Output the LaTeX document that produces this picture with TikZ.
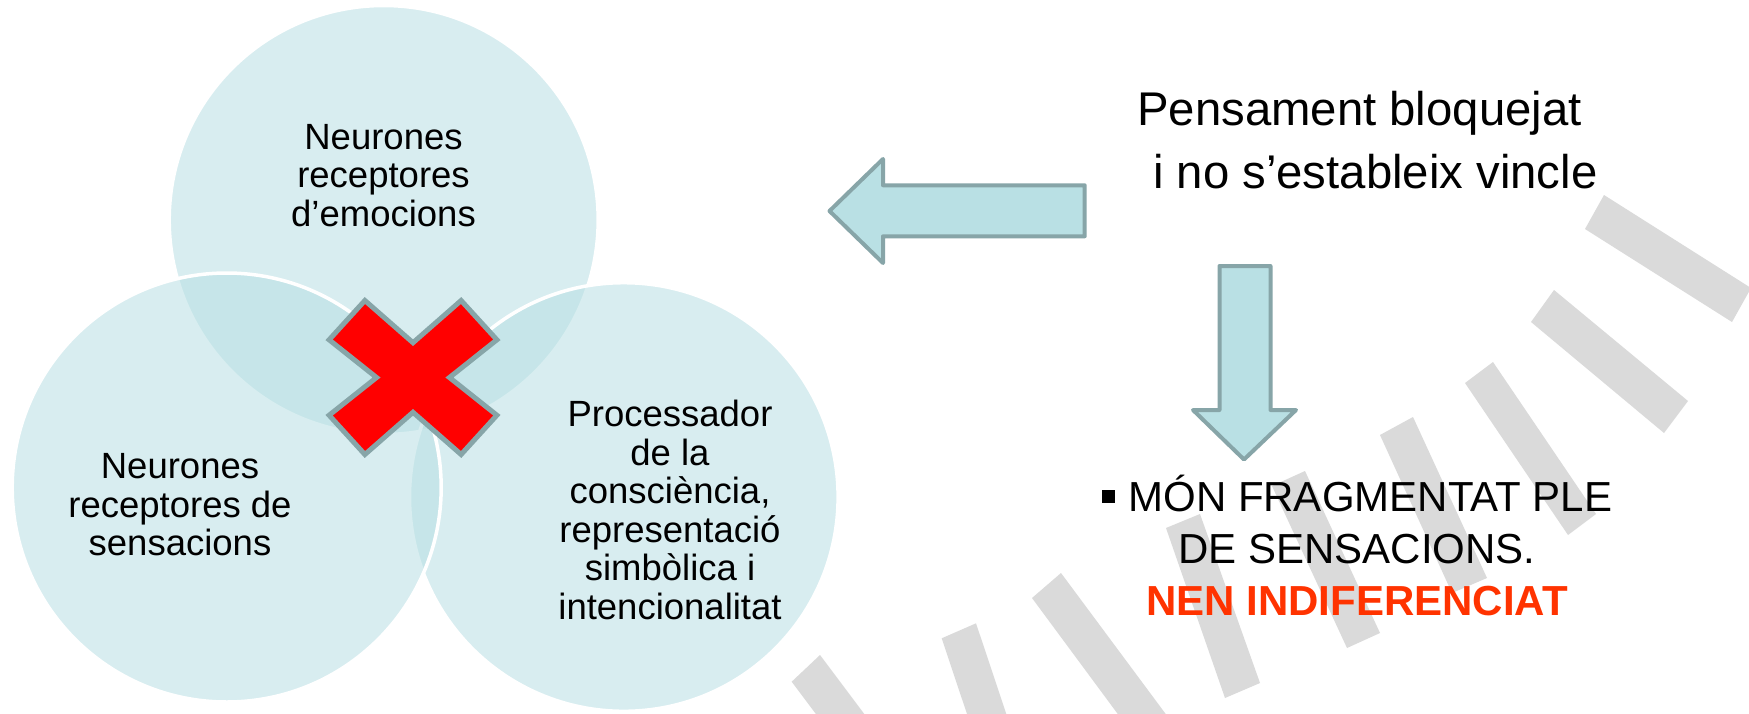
\documentclass[tikz,border=0pt]{standalone}
\usepackage{fontspec}
\setmainfont{Liberation Sans}
\definecolor{circfill}{RGB}{185,224,228}
\definecolor{arrowfill}{RGB}{185,224,228}
\definecolor{arrowline}{RGB}{135,165,168}
\definecolor{stripegray}{RGB}{218,218,218}
\definecolor{nenred}{RGB}{255,51,0}
\definecolor{crossred}{RGB}{255,0,0}
\begin{document}
\begin{tikzpicture}[x=1pt,y=-1pt,
  venn/.style={fill=circfill, fill opacity=0.55, draw=white, line width=3.5pt},
  graystripe/.style={fill=stripegray},
  bigarrow/.style={fill=arrowfill, draw=arrowline, line width=4pt, line join=round},
  crossmark/.style={fill=crossred, draw=arrowline, line width=5pt, line join=miter},
  ctext/.style={font=\fontsize{36.5}{38.5}\selectfont, align=center, anchor=base, inner sep=0pt},
  ptext/.style={font=\fontsize{47.3}{63.3}\selectfont, align=center, anchor=base, inner sep=0pt},
  mtext/.style={font=\fontsize{42}{51.6}\selectfont, align=center, anchor=base, inner sep=0pt}
]
\useasboundingbox (0,0) rectangle (1749,713);
\clip (0,0) rectangle (1749,713);
\fill[white] (0,0) rectangle (1749,713);

% background stripes
\fill[graystripe] (1604,195) -- (1585,229) -- (1732,322) -- (1751,288) -- cycle;
\fill[graystripe] (1554,290) -- (1531,322) -- (1664,433) -- (1688,401) -- cycle;
\fill[graystripe] (1493,362) -- (1465,383) -- (1568,535) -- (1596,514) -- cycle;
\fill[graystripe] (1413,417) -- (1380,435) -- (1452,593) -- (1487,578) -- cycle;
\fill[graystripe] (1305,471) -- (1272,486) -- (1347,648) -- (1380,633) -- cycle;
\fill[graystripe] (1200,514) -- (1166,528) -- (1225,698) -- (1260,683) -- cycle;
\fill[graystripe] (1061,573) -- (1032,598) -- (1137,740) -- (1185,740) -- cycle;
\fill[graystripe] (976,623.3) -- (941.7,638.3) -- (975.7,740) -- (1015,740) -- cycle;
\fill[graystripe] (820,655) -- (791.7,681.7) -- (835.4,740) -- (883.8,740) -- cycle;

% venn circles
\path[venn] (383.7,220) circle[radius=214.5];
\path[venn] (623.8,497) circle[radius=214.3];
\path[venn] (226.7,487.5) circle[radius=214.5];

% cross
\begin{scope}[shift={(413,377.5)}, scale=0.972]
\path[crossmark] (-49.5,-79.2) -- (0,-35.8) -- (49.5,-79.2) -- (86.3,-38.8) -- (37.5,0)
  -- (86.3,38.8) -- (49.5,79.2) -- (0,35.8) -- (-49.5,79.2) -- (-86.3,38.8)
  -- (-37.5,0) -- (-86.3,-38.8) -- cycle;
\end{scope}

% arrows
\path[bigarrow] (829.5,211) -- (883,159) -- (883,185.3) -- (1084.7,185.3)
  -- (1084.7,236.3) -- (883,236.3) -- (883,263) -- cycle;
\path[bigarrow] (1219.5,266) -- (1270.5,266) -- (1270.5,410) -- (1296,410)
  -- (1244,459.5) -- (1193,410) -- (1219.5,410) -- cycle;

% texts (base anchor = baseline of the last line)
\node[ctext] (temo) at (383.5,226) {Neurones\\receptores\\d’emocions};
\node[ctext] (tsens) at (180,555.5) {Neurones\\receptores de\\sensacions};
\node[ctext] (tproc) at (670,619) {Processador\\de la\\consciència,\\representació\\simbòlica i\\intencionalitat};
\node[ptext] (tpens) at (1367.4,188.3) {Pensament bloquejat\rule{0.334em}{0pt}\\\rule{0.334em}{0pt}i no s’estableix vincle};
\node[mtext] (tmon) at (1357,615) {\rule[9pt]{12.7pt}{12.7pt}\hspace{0.33em}MÓN FRAGMENTAT PLE\\DE SENSACIONS.\\\textcolor{nenred}{\bfseries NEN INDIFERENCIAT}};
\end{tikzpicture}
\end{document}
